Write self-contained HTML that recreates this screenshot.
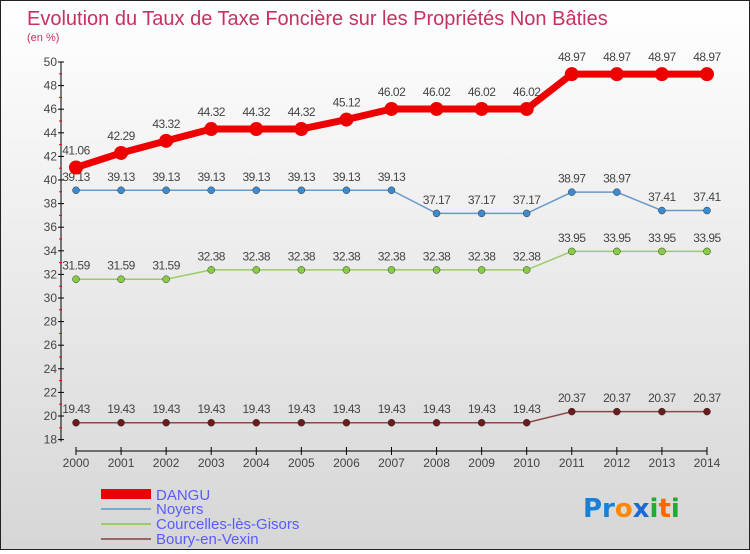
<!DOCTYPE html>
<html><head><meta charset="utf-8"><style>
body{margin:0;width:750px;height:550px;overflow:hidden;font-family:"Liberation Sans",sans-serif}
#wrap{position:relative;width:748px;height:548px;border:1px solid #222;background:linear-gradient(#ffffff,#d6d6d6)}
</style></head><body>
<div id="wrap">
<svg id="chart" width="748" height="548">
<text x="26" y="24" font-size="20" fill="#c8305f">Evolution du Taux de Taxe Foncière sur les Propriétés Non Bâties</text>
<text x="26" y="40" font-size="11" fill="#c8305f">(en %)</text>
<g id="axes"></g><g id="series"></g>
<g font-size="15" fill="#5a5aff">
<rect x="100" y="488" width="50" height="10" fill="#ee0000"/>
<text x="155" y="499">DANGU</text>
<rect x="100" y="507" width="50" height="2" fill="#7aaacc"/>
<text x="155" y="513">Noyers</text>
<rect x="100" y="522" width="50" height="2" fill="#99cc66"/>
<text x="155" y="528">Courcelles-lès-Gisors</text>
<rect x="100" y="537" width="50" height="2" fill="#996666"/>
<text x="155" y="543">Boury-en-Vexin</text>
</g>
<g font-size="26" font-weight="bold" font-family="DejaVu Sans,sans-serif">
<text x="582" y="516"><tspan fill="#1a7fd6">Pr</tspan><tspan fill="#ff8800">o</tspan><tspan fill="#1a6ad6">x</tspan><tspan fill="#22aa33">i</tspan><tspan fill="#ff6600">t</tspan><tspan fill="#22aa33">i</tspan></text>
</g>
</svg>
</div>
<script>
const years=[2000,2001,2002,2003,2004,2005,2006,2007,2008,2009,2010,2011,2012,2013,2014];
const dangu=[41.06,42.29,43.32,44.32,44.32,44.32,45.12,46.02,46.02,46.02,46.02,48.97,48.97,48.97,48.97];
const noyers=[39.13,39.13,39.13,39.13,39.13,39.13,39.13,39.13,37.17,37.17,37.17,38.97,38.97,37.41,37.41];
const courcelles=[31.59,31.59,31.59,32.38,32.38,32.38,32.38,32.38,32.38,32.38,32.38,33.95,33.95,33.95,33.95];
const boury=[19.43,19.43,19.43,19.43,19.43,19.43,19.43,19.43,19.43,19.43,19.43,20.37,20.37,20.37,20.37];
const yTicks=[18,20,22,24,26,28,30,32,34,36,38,40,42,44,46,48,50];
const NS="http://www.w3.org/2000/svg";
const X=i=>75+i*45.07;
const Y=v=>61+(50-v)*11.8;
function mk(tag,attrs,parent){const e=document.createElementNS(NS,tag);for(const k in attrs)e.setAttribute(k,attrs[k]);parent.appendChild(e);return e;}
const ax=document.getElementById('axes');
let l=mk('line',{x1:60,y1:Y(50),x2:60,y2:Y(18)+2,stroke:'#000'},ax);


l=mk('line',{x1:X(0),y1:450,x2:X(14),y2:450,stroke:'#000'},ax);


yTicks.forEach(v=>{
 mk('line',{x1:57,y1:Y(v),x2:63,y2:Y(v),stroke:'#000'},ax);
 if(v<50)mk('line',{x1:58,y1:Y(v+1),x2:61,y2:Y(v+1),stroke:'#e00'},ax);
 const t=mk('text',{x:56,y:Y(v)+4,'font-size':12,fill:'#444','text-anchor':'end'},ax);
 t.textContent=v;
 
 
});
years.forEach((y,i)=>{
 mk('line',{x1:X(i),y1:446,x2:X(i),y2:454,stroke:'#000'},ax);
 const t=mk('text',{x:X(i),y:466,'font-size':12,fill:'#444','text-anchor':'middle'},ax);
 t.textContent=y;
 
 
});
const sg=document.getElementById('series');
function series(name,vals,color,w,r,dot){
 const g=mk('g',{},sg);
 
 
 const p=mk('polyline',{points:vals.map((v,i)=>X(i)+','+Y(v)).join(' '),fill:'none',stroke:color,'stroke-width':w},g);
 
 
 vals.forEach((v,i)=>{
  const c=mk('circle',{cx:X(i),cy:Y(v),r:r,fill:dot,stroke:dot==='#ee0000'?'none':'#333','stroke-width':0.5},g);
  
  
  const t=mk('text',{x:X(i),y:Y(v)-(r+6),'font-size':12,fill:'#444','text-anchor':'middle','letter-spacing':'-0.5'},g);
  t.textContent=v.toFixed(2);
  
  
 });
}
series('boury',boury,'#8a4a4a',1.5,3.5,'#6b1b1b');
series('courcelles',courcelles,'#99cc66',1.5,3.5,'#88cc44');
series('noyers',noyers,'#6699cc',1.5,3.5,'#3c8ad0');
series('dangu',dangu,'#ee0000',7,7,'#ee0000');
</script>
</body></html>
